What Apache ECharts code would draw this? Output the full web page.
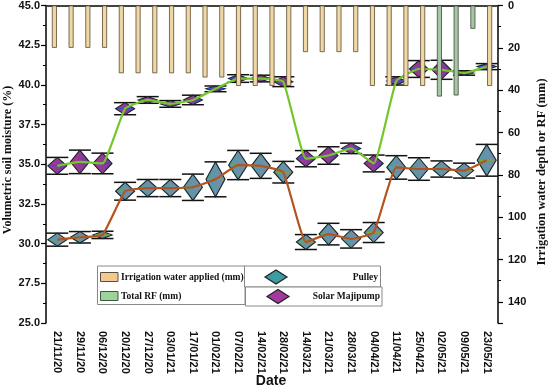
<!DOCTYPE html>
<html><head><meta charset="utf-8">
<script src="https://cdn.jsdelivr.net/npm/echarts@6/dist/echarts.min.js"></script>
<style>html,body{margin:0;padding:0;background:#fff}#c{width:550px;height:389px}</style>
</head><body><div id="c"></div>
<script>
const dates = ['21/11/20','29/11/20','06/12/20','20/12/20','27/12/20','03/01/21','17/01/21','01/02/21','07/02/21','14/02/21','28/02/21','14/03/21','21/03/21','28/03/21','04/04/21','11/04/21','25/04/21','02/05/21','09/05/21','23/05/21'];
const pulley = [30.25,30.4,30.55,33.3,33.5,33.5,33.55,34.05,34.95,34.9,34.5,30.1,30.6,30.3,30.7,34.8,34.7,34.7,34.6,35.25];
const pulleyErr = [0.41,0.36,0.23,0.56,0.54,0.54,0.83,1.1,0.92,0.79,0.68,0.47,0.68,0.58,0.63,0.74,0.71,0.51,0.47,1.0];
const solar = [34.9,35.15,35.05,38.5,39.05,38.8,39.05,39.75,40.4,40.4,40.2,35.35,35.55,36.0,35.05,40.25,41.0,40.95,40.75,41.15];
const solarErr = [0.53,0.74,0.65,0.38,0.21,0.21,0.3,0.18,0.24,0.21,0.31,0.51,0.55,0.33,0.53,0.26,0.53,0.6,0.14,0.19];
const irrigation = [20,20,20,20,32,32,32,32,32,34,34,38,38,38,38,22,22,22,22,38,38,38,38,null,null,null,38];
const totalRF = [null,null,null,null,null,null,null,null,null,null,null,null,null,null,null,null,null,null,null,null,null,null,null,43,42.5,11,null];
const barSlots = irrigation.map((_, i) => String(i + 1));
const leftTicks = [25, 45, 2.5];
const rightTicks = [0, 150, 20];

const chart = echarts.init(document.getElementById('c'), null, {renderer: 'canvas'});
const SANS = 'Liberation Sans';

function markerItem(grad) {
  return function (params, api) {
    const xi = api.value(0), v = api.value(1), e = api.value(2);
    const c = api.coord([xi, v]);
    const t = api.coord([xi, v + e]);
    const b = api.coord([xi, v - e]);
    const W = 19, C = 11;
    return {
      type: 'group',
      children: [
        {type: 'line', shape: {x1: c[0], y1: t[1], x2: c[0], y2: b[1]}, style: {stroke: '#111', lineWidth: 1.4}},
        {type: 'line', shape: {x1: c[0] - C, y1: t[1], x2: c[0] + C, y2: t[1]}, style: {stroke: '#111', lineWidth: 1.5}},
        {type: 'line', shape: {x1: c[0] - C, y1: b[1], x2: c[0] + C, y2: b[1]}, style: {stroke: '#111', lineWidth: 1.5}},
        {type: 'polygon', shape: {points: [[c[0] - W / 2, c[1]], [c[0], t[1]], [c[0] + W / 2, c[1]], [c[0], b[1]]]},
          style: {fill: new echarts.graphic.LinearGradient(0, 0, 1, 0, [{offset: 0, color: grad[0]}, {offset: 1, color: grad[1]}]), stroke: '#1b2424', lineWidth: 1.1}},
        {type: 'line', shape: {x1: c[0] - W / 2 + 2, y1: c[1], x2: c[0] + W / 2 - 2, y2: c[1]}, style: {stroke: grad[2], lineWidth: 1.2}}
      ]
    };
  };
}

function diamond(cx, cy, w, h, fill) {
  return {type: 'polygon', shape: {points: [[cx - w / 2, cy], [cx, cy - h / 2], [cx + w / 2, cy], [cx, cy + h / 2]]},
    style: {fill: fill, stroke: '#1b2424', lineWidth: 1.2}, z: 20};
}

const option = {
  animation: false,
  backgroundColor: '#fff',
  grid: {left: 46, right: 52, top: 5, bottom: 66},
  xAxis: [
    {type: 'category', data: dates, position: 'bottom', boundaryGap: true,
      axisLine: {lineStyle: {color: '#000', width: 1.5}},
      axisTick: {alignWithLabel: true, length: 5, lineStyle: {color: '#000', width: 1.2}},
      axisLabel: {rotate: -90, fontSize: 11, fontWeight: 'bold', color: '#111', fontFamily: SANS, margin: 8, interval: 0},
      splitLine: {show: false}},
    {type: 'category', data: barSlots, position: 'top', boundaryGap: true,
      axisLine: {show: true, lineStyle: {color: '#444', width: 1.5}},
      axisTick: {show: false}, axisLabel: {show: false}, splitLine: {show: false}}
  ],
  yAxis: [
    {type: 'value', min: leftTicks[0], max: leftTicks[1], interval: leftTicks[2], position: 'left',
      axisLine: {show: true, lineStyle: {color: '#000', width: 1.5}},
      axisTick: {show: true, length: 5, lineStyle: {color: '#000', width: 1.2}},
      minorTick: {show: true, splitNumber: 2, length: 3, lineStyle: {color: '#000', width: 1}},
      axisLabel: {formatter: v => v.toFixed(1), fontSize: 11, fontWeight: 'bold', color: '#111', fontFamily: SANS, margin: 6},
      splitLine: {show: false}},
    {type: 'value', min: rightTicks[0], max: rightTicks[1], interval: rightTicks[2], inverse: true, position: 'right',
      axisLine: {show: true, lineStyle: {color: '#000', width: 1.5}},
      axisTick: {show: true, length: 5, lineStyle: {color: '#000', width: 1.2}},
      minorTick: {show: true, splitNumber: 2, length: 3, lineStyle: {color: '#000', width: 1}},
      axisLabel: {formatter: v => (v >= 150 ? '' : String(v)), fontSize: 11, fontWeight: 'bold', color: '#111', fontFamily: SANS, margin: 10},
      splitLine: {show: false}}
  ],
  series: [
    {name: 'Pulley marks', type: 'custom', xAxisIndex: 0, yAxisIndex: 0, z: 3,
      renderItem: markerItem(['#4a9ea6', '#8088aa', '#7aa832']),
      data: pulley.map((v, i) => [i, v, pulleyErr[i]])},
    {name: 'Solar marks', type: 'custom', xAxisIndex: 0, yAxisIndex: 0, z: 3,
      renderItem: markerItem(['#b23b8c', '#6b3aa6', '#3050d0']),
      data: solar.map((v, i) => [i, v, solarErr[i]])},
    {name: 'Pulley', type: 'line', xAxisIndex: 0, yAxisIndex: 0, z: 4, data: pulley, smooth: 0.12,
      showSymbol: false, symbol: 'none', lineStyle: {color: '#b5531e', width: 2.2}},
    {name: 'Solar Majipump', type: 'line', xAxisIndex: 0, yAxisIndex: 0, z: 4, data: solar, smooth: 0.12,
      showSymbol: false, symbol: 'none', lineStyle: {color: '#74c62b', width: 2.2}},
    {name: 'Irrigation water applied (mm)', type: 'bar', xAxisIndex: 1, yAxisIndex: 1, z: 6, barWidth: 5, barGap: '-100%',
      itemStyle: {color: '#efd7a6', borderColor: '#5c4a32', borderWidth: 0.8}, data: irrigation},
    {name: 'Total RF (mm)', type: 'bar', xAxisIndex: 1, yAxisIndex: 1, z: 6, barWidth: 5, barGap: '-100%',
      itemStyle: {color: '#a7c6a4', borderColor: '#3e4a3e', borderWidth: 0.8}, data: totalRF}
  ],
  graphic: [
    {type: 'rect', shape: {x: 97.5, y: 266, width: 147.5, height: 38.5}, style: {fill: '#fff', stroke: '#888', lineWidth: 1}, z: 19},
    {type: 'rect', shape: {x: 100.5, y: 272.5, width: 17.5, height: 9}, style: {fill: '#f3c990', stroke: '#5a5040', lineWidth: 1}, z: 20},
    {type: 'text', x: 121, y: 277.5, style: {text: 'Irrigation water applied (mm)', font: 'bold 9.5px "Liberation Serif"', fill: '#111', verticalAlign: 'middle'}, z: 20},
    {type: 'rect', shape: {x: 100.5, y: 291.5, width: 17.5, height: 9}, style: {fill: '#9dd39b', stroke: '#3f5a3f', lineWidth: 1}, z: 20},
    {type: 'text', x: 121, y: 296.5, style: {text: 'Total RF (mm)', font: 'bold 9.5px "Liberation Serif"', fill: '#111', verticalAlign: 'middle'}, z: 20},
    {type: 'rect', shape: {x: 244.5, y: 266, width: 136, height: 21}, style: {fill: '#fff', stroke: '#888', lineWidth: 1}, z: 19},
    diamond(276, 277, 22, 14, '#3f9aa2'),
    {type: 'text', x: 378, y: 277.5, style: {text: 'Pulley', font: 'bold 9.5px "Liberation Serif"', fill: '#111', align: 'right', verticalAlign: 'middle'}, z: 20},
    {type: 'rect', shape: {x: 245.5, y: 287, width: 136.5, height: 19}, style: {fill: '#fff', stroke: '#888', lineWidth: 1}, z: 19},
    diamond(278, 296.5, 22, 14, '#a3399a'),
    {type: 'text', x: 380, y: 296.5, style: {text: 'Solar Majipump', font: 'bold 9.5px "Liberation Serif"', fill: '#111', align: 'right', verticalAlign: 'middle'}, z: 20},
    {type: 'text', x: 8, y: 160, rotation: Math.PI / 2, style: {text: 'Volumetric soil moisture (%)', font: 'bold 12px "Liberation Serif"', fill: '#111', align: 'center', verticalAlign: 'middle'}},
    {type: 'text', x: 542, y: 172, rotation: Math.PI / 2, style: {text: 'Irrigation water depth or RF (mm)', font: 'bold 12.5px "Liberation Serif"', fill: '#111', align: 'center', verticalAlign: 'middle'}},
    {type: 'text', x: 271, y: 381, style: {text: 'Date', font: 'bold 14px "Liberation Sans"', fill: '#111', align: 'center', verticalAlign: 'middle'}}
  ]
};
chart.setOption(option);
</script>
</body></html>
